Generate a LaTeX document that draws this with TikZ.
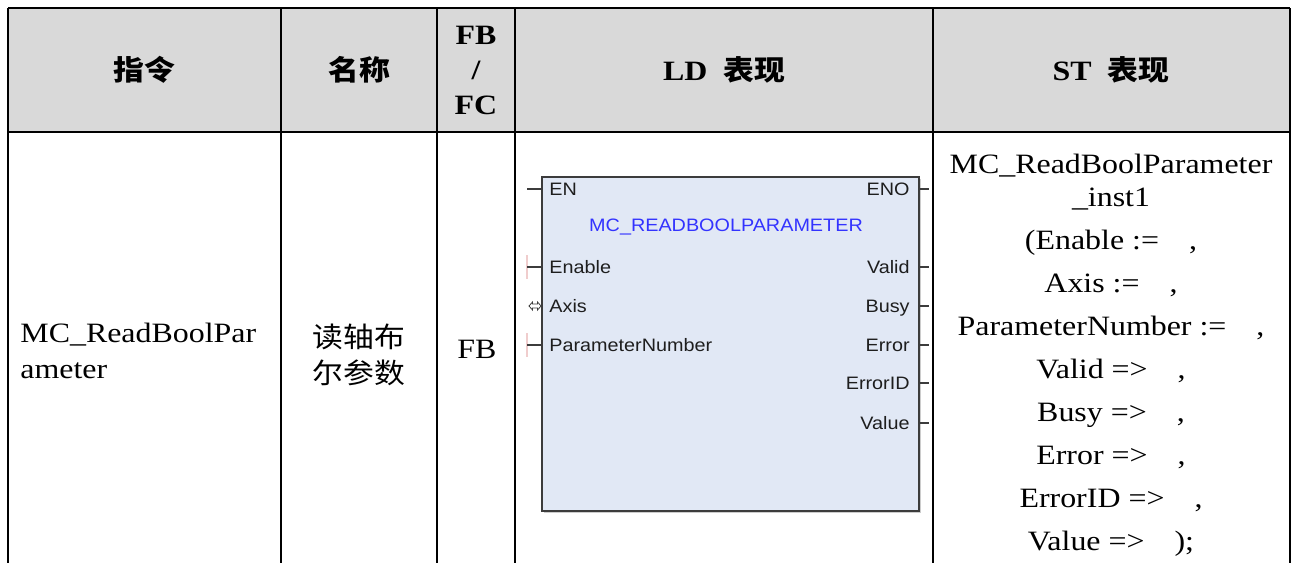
\documentclass[tikz,border=0pt]{standalone}
\usepackage{fontspec}
\setmainfont{Liberation Serif}[FakeStretch=1.14]
\newfontfamily\cjk{Noto Sans CJK SC}[FakeStretch=1.1]
\newfontfamily\arialf{Liberation Sans}[FakeStretch=1.1]
\definecolor{hdrgray}{RGB}{217,217,217}
\definecolor{blkfill}{RGB}{225,232,245}
\definecolor{blkline}{RGB}{60,60,60}
\definecolor{pinblue}{RGB}{51,51,255}
\definecolor{pintext}{RGB}{30,30,30}
\definecolor{pinkmark}{RGB}{240,205,205}
\begin{document}
\begin{tikzpicture}[x=0.5pt,y=-0.5pt,
  grid/.style={line width=1.2pt, black},
  hlat/.style={font=\fontsize{14}{17.5}\selectfont\bfseries, inner sep=0pt},
  body/.style={font=\fontsize{14}{16}\selectfont, inner sep=0pt},
  pinl/.style={font=\arialf\fontsize{9}{10}\selectfont, text=pintext, inner sep=0pt, anchor=base west},
  pinr/.style={font=\arialf\fontsize{9}{10}\selectfont, text=pintext, inner sep=0pt, anchor=base east},
  stub/.style={line width=0.75pt, blkline},
  stline/.style={body, anchor=base}]
\useasboundingbox (0,0) rectangle (1293,563);
\fill[white] (0,0) rectangle (1293,563);
% header background
\fill[hdrgray] (8,8) rectangle (1290,132);
% table grid
\draw[grid] (8,8) -- (1290,8);
\draw[grid] (8,132) -- (1290,132);
\foreach \xx in {8,281,437,515,933,1290} \draw[grid] (\xx,8) -- (\xx,563);
% header texts
\node[inner sep=0pt] (h1) at (144,70) {\cjk\fontsize{14}{16}\selectfont\bfseries 指令};
\node[inner sep=0pt] (h2) at (359,70) {\cjk\fontsize{14}{16}\selectfont\bfseries 名称};
\node[hlat, align=center] (h3) at (476,70) {FB\\/\\FC};
\node[inner sep=0pt] (h4) at (724,70) {\fontsize{14}{16}\selectfont\bfseries LD\hspace{8pt}{\cjk\fontsize{14}{16}\selectfont\bfseries 表现}};
\node[inner sep=0pt] (h5) at (1111,70) {\fontsize{14}{16}\selectfont\bfseries ST\hspace{8pt}{\cjk\fontsize{14}{16}\selectfont\bfseries 表现}};
% body first columns
\node[body, anchor=base west] (c1a) at (20,342) {MC\_ReadBoolPar};
\node[body, anchor=base west] (c1b) at (20,378) {ameter};
\node[inner sep=0pt] (c2a) at (359,337) {\cjk\fontsize{14}{16}\selectfont 读轴布};
\node[inner sep=0pt] (c2b) at (359,373) {\cjk\fontsize{14}{16}\selectfont 尔参数};
\node[body, anchor=base] (c3) at (477,358) {FB};
% function block
\fill[black!20] (544,179) rectangle (921,513);
\node[draw=blkline, fill=blkfill, line width=0.9pt, minimum width=188.5pt, minimum height=167pt, inner sep=0pt] (blk) at (730.5,344) {};
\node[font=\arialf\fontsize{9}{10}\selectfont, text=pinblue, inner sep=0pt] (title) at (726,227) {MC\_READBOOLPARAMETER};
\node[pinl] (en) at (549,195.5) {EN};
\node[pinr] (eno) at (910,195.5) {ENO};
\node[pinl] (ienable) at (549,273.5) {Enable};
\node[pinl] (iaxis) at (549,312.5) {Axis};
\node[pinl] (ipn) at (549,351.5) {ParameterNumber};
\node[pinr] (ovalid) at (910,273.5) {Valid};
\node[pinr] (obusy) at (910,312.5) {Busy};
\node[pinr] (oerror) at (910,351.5) {Error};
\node[pinr] (oerrid) at (910,389.5) {ErrorID};
\node[pinr] (ovalue) at (910,429.5) {Value};
% wire ends
\coordinate (wen) at (527,189);
\coordinate (wenable) at (527,267);
\coordinate (wpn) at (527,345);
\coordinate (weno) at (929,189);
\coordinate (wvalid) at (929,267);
\coordinate (wbusy) at (929,306);
\coordinate (werror) at (929,345);
\coordinate (werrid) at (929,383);
\coordinate (wvalue) at (929,423);
\draw[pinkmark, line width=0.6pt] (527,255) -- (527,279);
\draw[pinkmark, line width=0.6pt] (527,333) -- (527,357);
\foreach \w in {wen,wenable,wpn} \draw[stub] (\w) -- (\w -| blk.west);
\foreach \w in {weno,wvalid,wbusy,werror,werrid,wvalue} \draw[stub] (\w -| blk.east) -- (\w);
% in-out marker for Axis
\draw[blkline, line width=0.4pt] (529,306) -- (532.5,302) -- (532.5,304) -- (537.5,304) -- (537.5,302) -- (541,306) -- (537.5,310) -- (537.5,308) -- (532.5,308) -- (532.5,310) -- cycle;
% ST column
\node[stline] (s1) at (1111,173) {MC\_ReadBoolParameter};
\node[stline] (s2) at (1111,206) {\_inst1};
\node[stline] (s3) at (1111,249) {(Enable :=\hspace{15pt},};
\node[stline] (s4) at (1111,292) {Axis :=\hspace{15pt},};
\node[stline] (s5) at (1111,335) {ParameterNumber :=\hspace{15pt},};
\node[stline] (s6) at (1111,378) {Valid =>\hspace{15pt},};
\node[stline] (s7) at (1111,421) {Busy =>\hspace{15pt},};
\node[stline] (s8) at (1111,464) {Error =>\hspace{15pt},};
\node[stline] (s9) at (1111,507) {ErrorID =>\hspace{15pt},};
\node[stline] (s10) at (1111,550) {Value =>\hspace{15pt});};
\end{tikzpicture}
\end{document}
